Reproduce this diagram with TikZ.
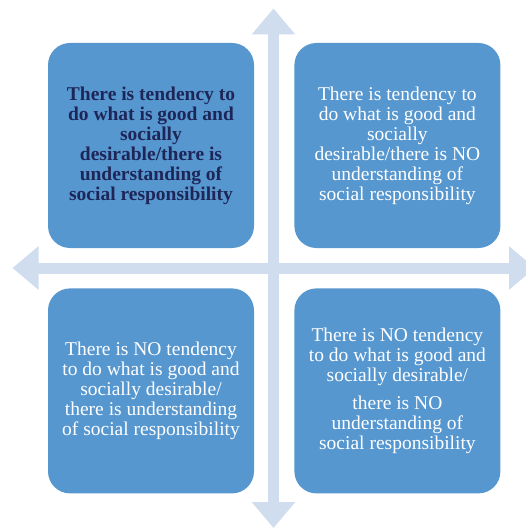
\documentclass[tikz,border=0pt]{standalone}
\usepackage{fontspec}
\setmainfont{Liberation Serif}
\usetikzlibrary{arrows.meta, positioning}

\definecolor{quadblue}{RGB}{87,151,208}
\definecolor{axisblue}{RGB}{207,221,238}
\definecolor{darknavy}{RGB}{30,38,88}

\begin{document}
\begin{tikzpicture}[x=1pt, y=-1pt, node distance=40pt and 40pt,
  every node/.style={font=\rmfamily\fontsize{19.5}{20}\selectfont},
  quad/.style={rectangle, rounded corners=22pt, fill=quadblue, align=center,
    minimum width=206pt, minimum height=205pt, inner sep=0pt, text=white},
  axis/.style={axisblue, line width=11pt,
    {Triangle[width=42pt, length=26pt]}-{Triangle[width=42pt, length=26pt]}}]

\useasboundingbox (0,0) rectangle (526,529);
\clip (0,0) rectangle (526,529);

% axes
\coordinate (top) at (273.5,8.5);
\coordinate (bottom) at (273.5,528);
\coordinate (left) at (12.5,268);
\coordinate (right) at (535,268);
\draw[axis] (bottom) -- (top);
\draw[axis] (left) -- (right);

% quadrants
\node[quad, text=darknavy, font=\rmfamily\fontsize{19.5}{20}\selectfont\bfseries] (tl) at (151,145.5)
  {There is tendency to\\do what is good and\\socially\\desirable/there is\\understanding of\\social responsibility};
\node[quad, right=of tl] (tr)
  {There is tendency to\\do what is good and\\socially\\desirable/there is NO\\understanding of\\social responsibility};
\node[quad, below=of tl] (bl)
  {There is NO tendency\\to do what is good and\\socially desirable/\\there is understanding\\of social responsibility};
\node[quad, below=of tr] (br)
  {There is NO tendency\\to do what is good and\\socially desirable/\\[8pt]there is NO\\understanding of\\social responsibility};

\end{tikzpicture}
\end{document}
